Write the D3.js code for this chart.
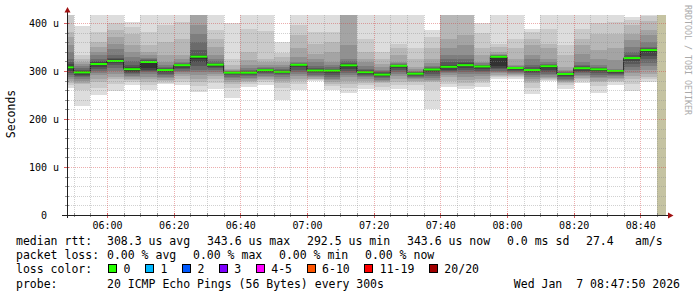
<!DOCTYPE html>
<html><head><meta charset="utf-8">
<script src="https://cdn.jsdelivr.net/npm/d3@7"></script>
<style>
html,body{margin:0;padding:0;background:#fff;}
svg{display:block;}
text{font-family:"DejaVu Sans Mono",monospace;fill:#000;}
</style></head><body>
<svg id="c" width="697" height="297"></svg>
<script>
// ---------------- data ----------------
const sampleEnds = ["05:50","05:55","06:00","06:05","06:10","06:15","06:20","06:25","06:30","06:35","06:40","06:45",
  "06:50","06:55","07:00","07:05","07:10","07:15","07:20","07:25","07:30","07:35","07:40","07:45",
  "07:50","07:55","08:00","08:05","08:10","08:15","08:20","08:25","08:30","08:35","08:40","08:45"];
const medians = [307.6,297.2,314.6,320.8,303.8,318.75,302,312.2,329.9,313.2,296.5,296.5,
  301.7,298.3,312.9,301,300.7,311.8,297.6,292.5,310.8,294.4,303.1,308.7,
  312.2,309.4,329.6,306.25,302,310,293.75,305.9,303.5,300,327,343.6];
const lossCount = [0,0,0,0,0,0,0,0,0,0,0,0,0,0,0,0,0,0,0,0,0,0,0,0,0,0,0,0,0,0,0,0,0,0,0,0];
// 20 sorted ping rtts (us) per 5-minute step
const pings = [
 [265,270,276,280,284,288,292,296,300,305,310,314,319,325,340,354,370,381,420,450],
 [227,260,272,276,280,284,287,290,292,295,299,301,303,306,310,314,319,326,333,394],
 [250,265,277,284,291,296,300,305,309,313,316,318,321,326,333,340,350,360,381,440],
 [258,272,284,288,294,300,306,312,316,319,322,325,328,333,345,357,370,385,400,450],
 [271,277,281,284,287,290,293,295,298,301,306,308,312,320,330,340,354,378,392,402],
 [260,270,278,283,288,293,297,300,303,306,319.5,320,322,325,328,333,340,354,381,445],
 [273,276,279,281,285,288,291,294,298,300,303,304,306,309,312,319,333,360,395,440],
 [270,277,284,289,294,298,301,305,307,310,312.5,313,314,316,319,326,333,367,402,440],
 [256,268,277,284,291,298,303,310,318,326,331,333,343,360,378,395,420,440,460,480],
 [262,275,284,289,294,298,302,306,309,312,314,315,317,320,326,333,350,367,385,440],
 [243,265,273,277,281,285,288,291,293,295,297,297.5,298,299,300,302,305,312,326,400],
 [266,272,277,280,283,286,289,291,293,295,297,298,300,303,307,312,322,340,388,440],
 [271,277,281,284,287,290,293,295,298,300,302,303,304,306,308,312,319,326,384,440],
 [239,265,274,279,283,287,291,293,295,297,299.5,301,303,305,308,312,319,330,338,360],
 [260,272,280,284,290,294,298,303,308,311,313.5,314,315,316,319,330,347,374,395,440],
 [280,281,283,284,287,289,291,295,297,299,302,304,306,311,318,326,336,357,381,440],
 [260,268,273,277,281,284,287,291,295,298,301.5,303,305,308,313,319,340,360,381,440],
 [254,265,272,280,288,292,296,300,304,308,312.5,314,316,320,326,354,420,440,460,480],
 [263,270,275,280,284,287,290,292,294,296,298,300,302,305,310,318,326,340,367,440],
 [260,267,274,277,280,282,285,287,289,291,293.5,295,297,300,303,308,315,326,340,440],
 [263,270,277,284,290,294,298,303,306,309,311.5,312,313,314,316,319,333,347,357,440],
 [260,270,277,280,283,285,288,290,291,293,295,296,297,298,300,304,308,326,347,440],
 [220,260,277,280,282,285,289,293,297,300,304,305,306,308,311,316,326,347,371,385],
 [267,273,280,287,291,295,298,300,303,306,310,312,318,326,333,347,367,425,445,470],
 [262,268,275,282,288,293,298,303,307,310,314,316,319,326,333,354,374,425,445,470],
 [267,274,280,284,290,294,298,301,304,307,310,311,312,313,316,319,333,347,380,401],
 [284,288,290,292,295,298,301,304,307,310,330.5,331,332,333,334,336,340,350,357,440],
 [284,287,289,291,293,295,297,300,302,304,306.5,307,308,309,310,312,326,347,367,440],
 [252,265,274,280,284,287,291,296,298,300,303,305,308,312,326,333,354,367,381,388],
 [279,281,283,285,288,291,294,298,303,307,311,312,313,314,318,326,347,357,388,440],
 [263,270,275,277,280,282,284,288,290,292,294.5,295,296,298,300,303,308,333,354,440],
 [276,280,283,285,289,292,295,298,301,304,307,308,310,313,319,336,354,367,388,440],
 [255,268,277,280,285,288,291,296,299,301,304,305,306,308,312,326,343,378,399,440],
 [271,277,280,283,286,289,291,294,296,298,300.5,301,302,303,305,322,347,378,402,440],
 [259,272,284,290,296,302,308,314,320,325,328,330,333,340,350,364,378,395,406,412],
 [278,283,288,294,303,310,316,325,332,340,345,346,347,350,360,375,385,405,414,416]
];
const yTickValues = [0,100,200,300,400];
const rowLabels = ["median rtt:","packet loss:","loss color:","probe:"];
const medianStats = ["308.3 us avg","343.6 us max","292.5 us min","343.6 us now","0.0 ms sd","27.4","am/s"];
const lossStats = ["0.00 % avg","0.00 % max","0.00 % min","0.00 % now"];
const lossLabels = ["0","1","2","3","4-5","6-10","11-19","20/20"];
const lossColors = ["#26ff00","#00b8ff","#0059ff","#7e00ff","#ff00ff","#ff5500","#ff0000","#a10000"];
const probeText = "20 ICMP Echo Pings (56 Bytes) every 300s";
const stampText = "Wed Jan  7 08:47:50 2026";
const watermark = "RRDTOOL / TOBI OETIKER";
const rangeStart = "05:48", rangeEnd = "08:48", nowTime = "08:47:50";
const stepMinutes = 5;

// ---------------- layout ----------------
const L = {left:67, right:667, top:15, bottom:215};
const medianX = [107,207,307,407,507,586,635];
const lossX = [107,193,279,365];
const rowY = [245.2,259.2,272.8,287.6];
const keepSpaces = s => s.replace(/ /g, "\u00a0");

const svg = d3.select("#c");
const pHM = d3.timeParse("%H:%M"), pHMS = d3.timeParse("%H:%M:%S");
const x = d3.scaleTime().domain([pHM(rangeStart), pHM(rangeEnd)]).range([L.left, L.right]);
const y = d3.scaleLinear().domain([0, (L.bottom-L.top)/0.48]).range([L.bottom, L.top]);

const cols = sampleEnds.map((s,i)=>{
  const e = pHM(s);
  return {start:d3.timeMinute.offset(e,-stepMinutes), end:e, med:medians[i], q:pings[i], loss:lossCount[i]};
});

svg.append("rect").attr("width",697).attr("height",297).attr("fill","#fff");
svg.append("defs").append("clipPath").attr("id","pc").append("rect")
  .attr("x",L.left).attr("y",L.top).attr("width",L.right-L.left).attr("height",L.bottom-L.top);

const plot = svg.append("g").attr("clip-path","url(#pc)");
const xs = d=>Math.max(x(d.start), L.left);

// smoke
const smoke = plot.append("g").attr("shape-rendering","crispEdges");
cols.forEach(c=>{
  for(let i=0;i<10;i++){
    const g = 221 - 19*i;
    const lo = c.q[i], hi = c.q[19-i];
    smoke.append("rect").attr("x",xs(c)).attr("width",x(c.end)-xs(c))
      .attr("y",y(hi)).attr("height",y(lo)-y(hi)).attr("fill",d3.rgb(g,g,g));
  }
});

// no-data (tan) area
plot.append("rect").attr("x",x(cols[cols.length-1].end)).attr("y",L.top)
  .attr("width",x(pHMS(nowTime))-x(cols[cols.length-1].end)).attr("height",L.bottom-L.top)
  .attr("fill","#c5c3a2").attr("shape-rendering","crispEdges");

// median step line + loss coloured median
const pts = cols.map(c=>[xs(c), y(c.med)]);
pts.push([x(cols[cols.length-1].end), y(cols[cols.length-1].med)]);
plot.append("path").attr("d", d3.line().curve(d3.curveStepAfter)(pts))
  .attr("fill","none").attr("stroke","#202020").attr("stroke-width",1);
const lossIdx = n => n===0?0:n===1?1:n===2?2:n===3?3:n<=5?4:n<=10?5:n<=19?6:7;
plot.selectAll(".med").data(cols).join("line")
  .attr("x1",d=>xs(d)).attr("x2",d=>x(d.end)).attr("y1",d=>y(d.med)).attr("y2",d=>y(d.med))
  .attr("stroke",d=>lossColors[lossIdx(d.loss)]).attr("stroke-width",2);

// grid (over data, dotted)
const grid = svg.append("g").attr("shape-rendering","crispEdges").attr("stroke-dasharray","1,1");
const minorC = "rgba(140,140,140,0.4)", majorC = "rgba(210,60,60,0.42)";
d3.range(20, y.domain()[1], 20).forEach(v=>{
  const major = v%100===0;
  grid.append("line").attr("x1",L.left).attr("x2",L.right).attr("y1",Math.round(y(v))+0.5).attr("y2",Math.round(y(v))+0.5)
    .attr("stroke",major?majorC:minorC);
});
d3.timeMinute.every(5).range(x.domain()[0], x.domain()[1]).forEach(t=>{
  const major = t.getMinutes()%20===0;
  const px = Math.round(x(t))+0.5;
  if(px<=L.left+1) return;
  grid.append("line").attr("x1",px).attr("x2",px).attr("y1",L.top).attr("y2",L.bottom)
    .attr("stroke",major?majorC:minorC);
});

// ticks on axes
const ticks = svg.append("g").attr("shape-rendering","crispEdges");
d3.timeMinute.every(5).range(x.domain()[0], x.domain()[1]).forEach(t=>{
  const major = t.getMinutes()%20===0;
  const px = Math.round(x(t))+0.5;
  ticks.append("line").attr("x1",px).attr("x2",px).attr("y1",L.bottom-2).attr("y2",L.bottom+(major?3:2))
    .attr("stroke",major?"rgba(210,60,60,0.8)":"rgba(120,120,120,0.8)");
});
d3.range(20, y.domain()[1], 20).forEach(v=>{
  const major = v%100===0;
  const py = Math.round(y(v))+0.5;
  ticks.append("line").attr("x1",L.left-(major?3:2)).attr("x2",L.left+2).attr("y1",py).attr("y2",py)
    .attr("stroke",major?"rgba(210,60,60,0.8)":"rgba(120,120,120,0.8)");
});

// axis lines and arrows
svg.append("line").attr("x1",L.left-5).attr("x2",L.right+2).attr("y1",L.bottom+0.5).attr("y2",L.bottom+0.5)
  .attr("stroke","#202020").attr("shape-rendering","crispEdges");
svg.append("line").attr("x1",L.left+0.5).attr("x2",L.left+0.5).attr("y1",L.bottom+3).attr("y2",L.top-4)
  .attr("stroke","#202020").attr("shape-rendering","crispEdges");
svg.append("path").attr("d",`M${L.left-2.5},${L.top-2.5}L${L.left+3.5},${L.top-2.5}L${L.left+0.5},${L.top-8}Z`).attr("fill","#a01010");
svg.append("path").attr("d",`M${L.right+1},${L.bottom-2.5}L${L.right+1},${L.bottom+3.5}L${L.right+6.5},${L.bottom+0.5}Z`).attr("fill","#a01010");

// axes labels through d3 axes
const xAxis = svg.append("g").attr("transform",`translate(0,${L.bottom})`)
  .call(d3.axisBottom(x).ticks(d3.timeMinute.every(20)).tickFormat(d3.timeFormat("%H:%M")).tickSize(0).tickPadding(6.5));
xAxis.select(".domain").remove();
xAxis.selectAll("text").attr("font-family","DejaVu Sans Mono").attr("font-size",10).attr("fill","#000");

const yAxis = svg.append("g").attr("transform",`translate(${L.left},0)`)
  .call(d3.axisLeft(y).tickValues(yTickValues).tickFormat(d=>d===0?"0":d+" u").tickSize(0).tickPadding(8));
yAxis.select(".domain").remove();
yAxis.selectAll("text").attr("font-family","DejaVu Sans Mono").attr("font-size",10).attr("fill","#000")
  .attr("dx",d=>d===0?-12:0);

svg.append("text").attr("transform","translate(11,114) rotate(-90)").attr("text-anchor","middle")
  .attr("dy","0.35em").attr("font-size",11.5).text("Seconds");

svg.append("text").attr("transform","translate(684.5,5) rotate(90)").attr("font-size",8.3)
  .style("fill","#aaaaaa").text(watermark);

// legend
const lg = svg.append("g").attr("font-size",11.5);
rowLabels.forEach((t,i)=>lg.append("text").attr("x",16).attr("y",rowY[i]).text(keepSpaces(t)));
medianStats.forEach((t,i)=>lg.append("text").attr("x",medianX[i]).attr("y",rowY[0]).text(keepSpaces(t)));
lossStats.forEach((t,i)=>lg.append("text").attr("x",lossX[i]).attr("y",rowY[1]).text(keepSpaces(t)));
let cur = 108.5;
lossLabels.forEach((t,i)=>{
  lg.append("rect").attr("x",cur).attr("y",rowY[2]-8.3).attr("width",8).attr("height",8)
    .attr("fill",lossColors[i]).attr("stroke","#000").attr("stroke-width",1).attr("shape-rendering","crispEdges");
  const tx = lg.append("text").attr("x",cur+15).attr("y",rowY[2]).text(t);
  cur = cur + 15 + tx.node().getComputedTextLength() + 15;
});
lg.append("text").attr("x",107).attr("y",rowY[3]).text(keepSpaces(probeText));
lg.append("text").attr("x",680).attr("y",rowY[3]).attr("text-anchor","end").text(keepSpaces(stampText));
</script>
</body></html>
